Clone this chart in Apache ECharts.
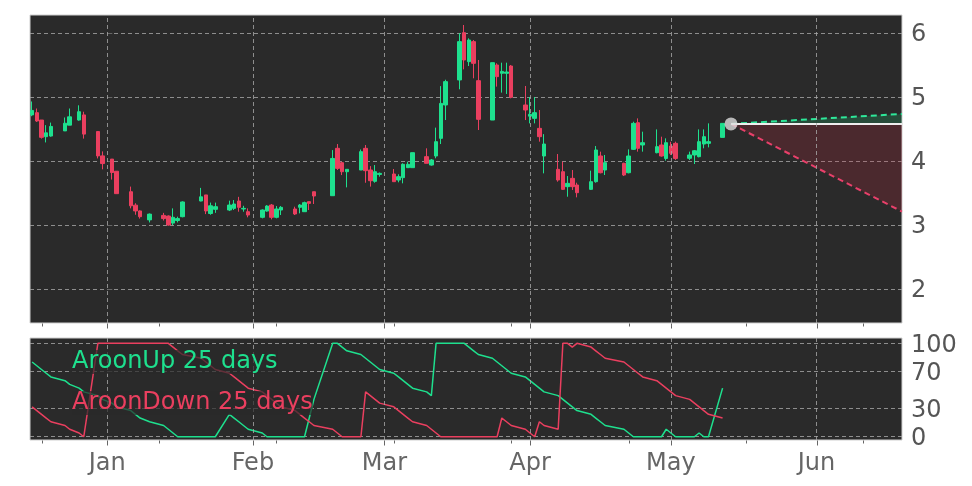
<!DOCTYPE html>
<html><head><meta charset="utf-8">
<script src="https://cdn.jsdelivr.net/npm/echarts@6/dist/echarts.min.js"></script>
<style>html,body{margin:0;padding:0;background:#fff}#c{width:972px;height:486px}</style>
</head><body><div id="c"></div>
<script>
// day offsets from 1 Jan (trading days, Dec 16 .. May 12)
const days = [-16,-15,-14,-13,-12,-9,-8,-6,-5,-2,-1,1,2,5,6,7,9,12,13,14,15,16,20,21,22,23,26,27,28,29,30,33,34,35,36,37,40,41,42,43,44,48,49,50,51,54,55,56,57,58,61,62,63,64,65,68,69,70,71,72,75,76,77,78,79,82,83,84,85,86,89,90,91,92,93,96,97,98,99,100,103,104,105,106,110,111,112,113,114,117,118,119,120,121,124,125,126,127,128,131];
const opens = [4.72,4.755,4.64,4.38,4.39,4.47,4.56,4.64,4.72,4.46,4.08,4.03,3.84,3.52,3.31,3.22,3.08,3.15,3.14,3.03,3.07,3.13,3.375,3.47,3.18,3.245,3.234,3.26,3.375,3.25,3.208,3.12,3.218,3.312,3.12,3.234,3.25,3.276,3.208,3.365,3.52,3.458,4.198,3.974,3.833,3.859,4.198,3.859,3.682,3.79,3.797,3.703,3.74,3.896,3.896,4.068,3.937,4.078,4.354,4.875,5.266,6.005,5.552,5.865,5.255,4.64,5.5,5.37,5.37,5.484,4.875,4.70,4.666,4.51,4.078,3.87,3.833,3.599,3.729,3.625,3.557,3.677,4.078,3.859,3.963,3.817,4.182,4.599,4.25,4.13,4.25,4.04,4.234,4.276,4.042,4.094,4.068,4.265,4.276,4.369];
const closes = [4.79,4.625,4.37,4.44,4.54,4.59,4.69,4.77,4.42,4.08,3.96,3.82,3.49,3.30,3.22,3.13,3.17,3.10,3.00,3.12,3.10,3.36,3.44,3.22,3.30,3.286,3.312,3.328,3.276,3.26,3.156,3.234,3.296,3.12,3.25,3.276,3.172,3.312,3.349,3.338,3.453,4.04,3.885,3.833,3.87,4.146,3.849,3.692,3.833,3.807,3.677,3.755,3.948,3.948,4.13,3.964,4.016,4.302,4.9,5.24,5.865,5.578,5.89,5.526,4.651,5.536,5.318,5.4,5.39,4.995,4.797,4.73,4.755,4.38,4.265,3.703,3.557,3.651,3.599,3.505,3.677,4.172,3.817,3.974,3.781,4.078,4.588,4.198,4.286,4.224,4.078,4.286,4.12,4.04,4.094,4.16,4.302,4.38,4.302,4.588];
const lows = [4.70,4.61,4.35,4.29,4.38,4.47,4.56,4.63,4.35,4.04,3.87,3.71,3.49,3.26,3.16,3.10,3.04,3.07,2.99,3.00,3.04,3.12,3.37,3.17,3.16,3.19,3.218,3.234,3.208,3.208,3.12,3.104,3.208,3.088,3.104,3.156,3.156,3.182,3.208,3.234,3.328,3.458,3.86,3.78,3.588,3.859,3.66,3.6,3.661,3.755,3.677,3.667,3.651,3.89,3.896,3.964,3.927,4.042,4.265,4.64,5.12,5.432,5.484,5.292,4.484,4.64,5.162,5.068,5.047,4.979,4.64,4.588,4.588,4.302,3.807,3.677,3.547,3.442,3.547,3.432,3.547,3.661,3.807,3.781,3.765,3.807,4.172,4.146,4.146,4.12,4.068,4.005,4.094,4.016,4.016,3.953,4.057,4.198,4.213,4.369];
const highs = [4.93,4.82,4.64,4.56,4.60,4.68,4.82,4.87,4.77,4.46,4.15,4.03,3.84,3.60,3.34,3.23,3.18,3.19,3.15,3.26,3.13,3.37,3.58,3.47,3.35,3.35,3.38,3.39,3.44,3.30,3.26,3.244,3.31,3.328,3.296,3.296,3.286,3.328,3.365,3.365,3.52,4.17,4.265,3.99,3.87,4.18,4.25,3.92,3.937,3.82,3.875,3.792,3.964,3.99,4.13,4.198,4.031,4.521,5.17,5.27,5.995,6.125,5.917,5.89,5.578,5.536,5.526,5.536,5.536,5.5,5.172,5.0,5.0,4.797,4.42,4.109,3.99,3.765,3.859,3.661,3.849,4.234,4.146,4.094,3.974,4.182,4.614,4.666,4.458,4.494,4.38,4.354,4.3,4.302,4.146,4.172,4.494,4.494,4.588,4.588];
const aroonUp = [80,76,72,68,64,60,56,52,48,44,40,36,32,28,24,20,16,12,8,4,0, 0,0,0,0,0, 24,20,16,12,8,4,0, 0,0,0,0,0,0, 20,40, 100,100,96,92,88,84,80,76,72,68,64,60,56,52,48,44, 100,100,100,100,100, 96,92,88,84,80,76,72,68,64,60,56,52,48,44,40,36,32,28,24,20,16,12,8,4, 0,0,0,0,0, 8,4,0, 0,0, 4, 0,0, 52];
const aroonDown = [32,28,24,20,16,12,8,4,0, 100,100,100,100,100,100,100,100,100,100, 96,92,88,84,80,76,72,68,64,60,56,52,48,44,40,36,32,28,24,20,16,12,8,4,0, 0,0, 48,44,40,36,32,28,24,20,16,12,8,4,0, 0,0,0,0,0,0,0,0, 20,16,12,8,4,0, 16,12,8, 100,100, 96, 100, 96,92,88,84,80,76,72,68,64,60,56,52,48,44,40,36,32,28,24,20];
const monthDays = [0,31,59,90,120,151];
const monthNames = ['Jan','Feb','Mar','Apr','May','Jun'];
const minorDays = [-14,11,36,61,86,111,136,161];
const priceTicks = [2,3,4,5,6];
const aroonTicks = [0,30,70,100];
const projStartDay = 132.8;
const projEndDay = 169.2;
const lastPrice = 4.58;
const projHigh = 4.735;
const projLow = 3.21;

const X_MIN = -16.45, X_MAX = 169.2;
const P_MIN = 1.469, P_MAX = 6.281;
const A_MIN = -3.5, A_MAX = 105.7;
const UP = '#1ee08e', DOWN = '#ea3f5f';
const gridLineStyle = {color:'#a8a8a8', width:0.8, type:[4,3]};
const tickCol = '#666';
const FONT = 'DejaVu Sans';

const candles = days.map((d,i)=>[d, opens[i], closes[i], lows[i], highs[i]]);
const upLine = days.map((d,i)=>[d, aroonUp[i]]);
const downLine = days.map((d,i)=>[d, aroonDown[i]]);
const monthMarks = {silent:true, symbol:['none','none'], label:{show:false}, lineStyle:gridLineStyle,
  emphasis:{disabled:true}, data: monthDays.map(d=>({xAxis:d}))};

function xAxisPlain(gi){
  return {type:'value', gridIndex:gi, min:X_MIN, max:X_MAX,
    axisLine:{show:false}, axisTick:{show:false}, axisLabel:{show:false},
    splitLine:{show:false}, minorTick:{show:false}, minorSplitLine:{show:false}};
}
// ticks (major = month starts, minor) and month labels, placed through the axis scale
function tickSeries(xi, yMin, withLabels){
  const data = monthDays.map((d,i)=>[d, yMin, 1, i]).concat(minorDays.map(d=>[d, yMin, 0, -1]));
  return {type:'custom', xAxisIndex:xi, yAxisIndex:xi, clip:false, silent:true, z:1,
    data, encode:{x:0, y:1},
    renderItem:(params, api)=>{
      const p = api.coord([api.value(0), api.value(1)]);
      const major = api.value(2) === 1;
      const x = Math.round(p[0]) + 0.5;
      const children = [{type:'line', shape:{x1:x, y1:p[1]+0.5, x2:x, y2:p[1]+(major?5.5:3.5)}, style:{stroke:tickCol, lineWidth:1}}];
      if (major && withLabels) {
        children.push({type:'text', x:p[0], y:p[1]+12, style:{text:monthNames[api.value(3)], fill:'#666',
          font:'24px "DejaVu Sans"', align:'center', verticalAlign:'top'}});
      }
      return {type:'group', children};
    }};
}
function yLabel(){
  return {margin:9, color:'#555', fontSize:24, fontFamily:FONT, verticalAlign:'top', lineHeight:4};
}

const chart = echarts.init(document.getElementById('c'), null, {renderer:'canvas'});
chart.setOption({
  backgroundColor:'#ffffff',
  animation:false,
  grid:[
    {left:30, right:70, top:15, height:308, show:true, backgroundColor:'#2a2a2a', borderColor:'#cfcfcf', borderWidth:1},
    {left:30, right:70, top:338, height:102, show:true, backgroundColor:'#2a2a2a', borderColor:'#cfcfcf', borderWidth:1}
  ],
  xAxis:[xAxisPlain(0), xAxisPlain(1)],
  yAxis:[
    {type:'value', gridIndex:0, position:'right', min:P_MIN, max:P_MAX,
     axisLine:{show:false},
     axisTick:{show:true, customValues:priceTicks, length:5, lineStyle:{color:tickCol}},
     axisLabel:Object.assign({customValues:priceTicks}, yLabel()),
     splitLine:{show:true, lineStyle:gridLineStyle}},
    {type:'value', gridIndex:1, position:'right', min:A_MIN, max:A_MAX,
     axisLine:{show:false},
     axisTick:{show:true, customValues:aroonTicks, length:5, lineStyle:{color:tickCol}},
     axisLabel:Object.assign({customValues:aroonTicks}, yLabel()),
     splitLine:{show:true, lineStyle:gridLineStyle}}
  ],
  series:[
    {type:'candlestick', xAxisIndex:0, yAxisIndex:0, data:candles, barWidth:4, z:3,
     itemStyle:{color:UP, color0:DOWN, borderColor:UP, borderColor0:DOWN, borderWidth:1},
     markLine:monthMarks},
    {type:'line', xAxisIndex:0, yAxisIndex:0, data:[[projStartDay,lastPrice],[projEndDay,projLow]], symbol:'none',
     lineStyle:{color:'#e8406a', width:2, type:[6,4]}, areaStyle:{origin:lastPrice, color:'rgba(200,40,60,0.3)'}},
    {type:'line', xAxisIndex:0, yAxisIndex:0, data:[[projStartDay,lastPrice],[projEndDay,projHigh]], symbol:'none',
     lineStyle:{color:'#2ee89a', width:2, type:[6,4]}, areaStyle:{origin:lastPrice, color:'rgba(30,200,120,0.3)'}},
    {type:'line', xAxisIndex:0, yAxisIndex:0, data:[[projStartDay,lastPrice],[projEndDay,lastPrice]], symbol:'none',
     lineStyle:{color:'#eeeeee', width:2}},
    {type:'scatter', xAxisIndex:0, yAxisIndex:0, data:[[projStartDay,lastPrice]], symbolSize:13,
     itemStyle:{color:'#dcdcdc'}, z:5},
    {type:'line', xAxisIndex:1, yAxisIndex:1, data:upLine, symbol:'none', lineStyle:{color:UP, width:1.5}, z:3,
     markLine:monthMarks},
    {type:'line', xAxisIndex:1, yAxisIndex:1, data:downLine, symbol:'none', lineStyle:{color:DOWN, width:1.5}, z:3},
    tickSeries(0, P_MIN, false),
    tickSeries(1, A_MIN, true)
  ],
  graphic:[
    {type:'text', left:72, top:350, z:10, style:{text:'AroonUp 25 days', fill:UP, font:'24px "DejaVu Sans"', backgroundColor:'rgba(42,42,42,0.7)'}},
    {type:'text', left:72, top:391, z:10, style:{text:'AroonDown 25 days', fill:DOWN, font:'24px "DejaVu Sans"', backgroundColor:'rgba(42,42,42,0.7)'}}
  ]
});
</script>
</body></html>
